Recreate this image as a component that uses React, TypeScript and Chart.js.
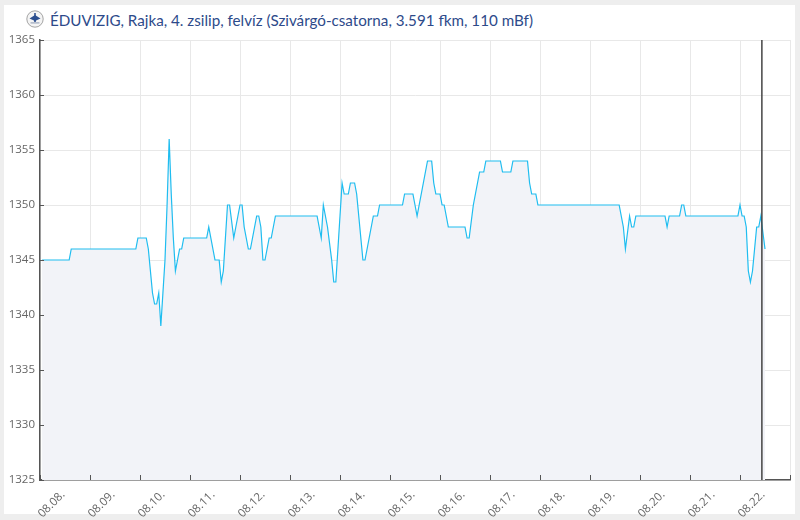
import React, { useEffect, useRef } from "react";
import { Chart, registerables } from "chart.js";

Chart.register(...registerables);

// Hours since 08.08. 00:00 and water level values (mBf, cm)
const hours = [
  1, 14, 15, 46, 47, 51, 52, 53, 54, 55, 56, 57, 58, 59, 60, 61, 62, 63, 64, 65, 66, 67, 68, 69,
  80, 81, 84, 86, 87, 88, 90, 91, 93, 95, 96, 97, 98, 100, 101, 104, 105, 106, 107, 108, 110, 111, 113,
  133, 135, 136, 138, 140, 141, 142, 145, 146, 148, 149, 151, 152, 155, 156, 160, 162, 163,
  174, 175, 179, 180, 181, 186, 188, 189, 190, 192, 193, 194, 196, 204, 205, 206, 208, 211, 213, 214,
  221, 222, 226, 227, 234, 235, 236, 238, 239, 278, 280, 281, 283, 284, 285, 286,
  300, 301, 302, 307, 308, 309, 310, 335, 336, 337, 338, 339, 340, 341, 342, 343, 344, 345, 346, 348,
];
const levels = [
  1345, 1345, 1346, 1346, 1347, 1347, 1346, 1344, 1342, 1341, 1341, 1342, 1339, 1342, 1345, 1350, 1356, 1351, 1347, 1344, 1345, 1346, 1346, 1347,
  1347, 1348, 1345, 1345, 1343, 1344, 1350, 1350, 1347, 1349, 1350, 1350, 1348, 1346, 1346, 1349, 1349, 1348, 1345, 1345, 1347, 1347, 1349,
  1349, 1347, 1350, 1348, 1345, 1343, 1343, 1352, 1351, 1351, 1352, 1352, 1351, 1345, 1345, 1349, 1349, 1350,
  1350, 1351, 1351, 1350, 1349, 1354, 1354, 1352, 1351, 1351, 1350, 1350, 1348, 1348, 1347, 1347, 1350, 1353, 1353, 1354,
  1354, 1353, 1353, 1354, 1354, 1352, 1351, 1351, 1350, 1350, 1348, 1346, 1349, 1348, 1348, 1349,
  1349, 1348, 1349, 1349, 1350, 1350, 1349, 1349, 1350, 1349, 1349, 1348, 1344, 1343, 1344, 1346, 1348, 1348, 1349, 1346,
];
const dayLabels = [
  "08.08.", "08.09.", "08.10.", "08.11.", "08.12.", "08.13.", "08.14.", "08.15.",
  "08.16.", "08.17.", "08.18.", "08.19.", "08.20.", "08.21.", "08.22.",
];
const nowHour = 346.5;
const titleText = "ÉDUVIZIG, Rajka, 4. zsilip, felvíz (Szivárgó-csatorna, 3.591 fkm, 110 mBf)";

const axisColor = "#555555";

const innerTicks = {
  id: "innerTicks",
  afterDatasetsDraw(chart: any) {
    const { ctx, chartArea, scales } = chart;
    ctx.save();
    // now marker
    const nx = scales.x.getPixelForValue(nowHour);
    ctx.strokeStyle = "#444444";
    ctx.lineWidth = 1.5;
    ctx.beginPath();
    ctx.moveTo(nx, chartArea.top);
    ctx.lineTo(nx, chartArea.bottom);
    ctx.stroke();
    // inward ticks
    ctx.strokeStyle = axisColor;
    ctx.lineWidth = 1;
    ctx.beginPath();
    scales.x.ticks.forEach((t: any) => {
      const x = Math.round(scales.x.getPixelForValue(t.value)) + 0.5;
      ctx.moveTo(x, chartArea.bottom - 5);
      ctx.lineTo(x, chartArea.bottom);
    });
    scales.y.ticks.forEach((t: any) => {
      const y = Math.round(scales.y.getPixelForValue(t.value)) + 0.5;
      ctx.moveTo(chartArea.left, y);
      ctx.lineTo(chartArea.left + 4, y);
    });
    ctx.stroke();
    ctx.restore();
  },
};

function Logo() {
  return (
    <svg width="18" height="18" viewBox="0 0 18 18" style={{ position: "absolute", left: 26, top: 10 }}>
      <circle cx="9" cy="9" r="8.2" fill="#f4f4f4" stroke="#9a9a9a" strokeWidth="0.9" />
      <path d="M3.5 8.5 L9 5 L14.5 8.5 L9 11 Z" fill="#2c4f8f" />
      <rect x="8.2" y="3" width="1.6" height="9" fill="#2c4f8f" />
      <rect x="4.5" y="12.3" width="9" height="1.2" fill="#9aa6bb" />
    </svg>
  );
}

export default function App() {
  const ref = useRef<HTMLCanvasElement | null>(null);

  useEffect(() => {
    if (!ref.current) return;
    const data = hours.map((h, i) => ({ x: h, y: levels[i] }));
    const chart = new Chart(ref.current, {
      type: "line",
      data: {
        datasets: [
          {
            data,
            borderColor: "#1fbdf0",
            borderWidth: 1.2,
            backgroundColor: "#f2f3f8",
            fill: "start",
            pointRadius: 0,
            tension: 0,
          },
        ],
      },
      options: {
        animation: false,
        responsive: false,
        devicePixelRatio: 1,
        layout: { padding: { top: 40, right: 10, left: 0, bottom: 0 } },
        plugins: { legend: { display: false }, tooltip: { enabled: false }, title: { display: false } },
        scales: {
          x: {
            type: "linear",
            min: 0,
            max: 360,
            afterFit: (s: any) => {
              s.height = 40;
              s.paddingLeft = 0;
              s.paddingRight = 0;
            },
            grid: { color: "#e8e8e8", drawTicks: false },
            border: { display: true, color: axisColor, width: 1.5 },
            ticks: {
              stepSize: 24,
              autoSkip: false,
              minRotation: 45,
              maxRotation: 45,
              labelOffset: 23,
              padding: 8,
              color: "#666666",
              font: { family: "'Open Sans', sans-serif", size: 11.5 },
              callback: (v: any) => dayLabels[Math.round(Number(v) / 24)] ?? "",
            },
          },
          y: {
            min: 1325,
            max: 1365,
            afterFit: (s: any) => {
              s.width = 40;
              s.paddingTop = 0;
              s.paddingBottom = 0;
            },
            grid: { color: "#e8e8e8", drawTicks: false },
            border: { display: true, color: axisColor, width: 1.5 },
            ticks: {
              stepSize: 5,
              padding: 5,
              color: "#666666",
              font: { family: "'Open Sans', sans-serif", size: 11.5 },
              callback: (v: any) => String(v),
            },
          },
        },
      },
      plugins: [innerTicks],
    });
    return () => chart.destroy();
  }, []);

  return (
    <div style={{ position: "fixed", left: 0, top: 0, width: 800, height: 520, background: "#eeeeee", overflow: "hidden" }}>
      <div style={{ position: "absolute", left: 4, top: 5, width: 791, height: 509, background: "#ffffff" }} />
      <Logo />
      <div
        style={{
          position: "absolute",
          left: 50,
          top: 10,
          fontFamily: "Lato, 'Open Sans', sans-serif",
          fontSize: 15.2,
          color: "#2d4a8a",
          whiteSpace: "nowrap",
          lineHeight: "20px",
        }}
      >
        {titleText}
      </div>
      <canvas ref={ref} width={800} height={520} style={{ position: "absolute", left: 0, top: 0, width: 800, height: 520 }} />
    </div>
  );
}
